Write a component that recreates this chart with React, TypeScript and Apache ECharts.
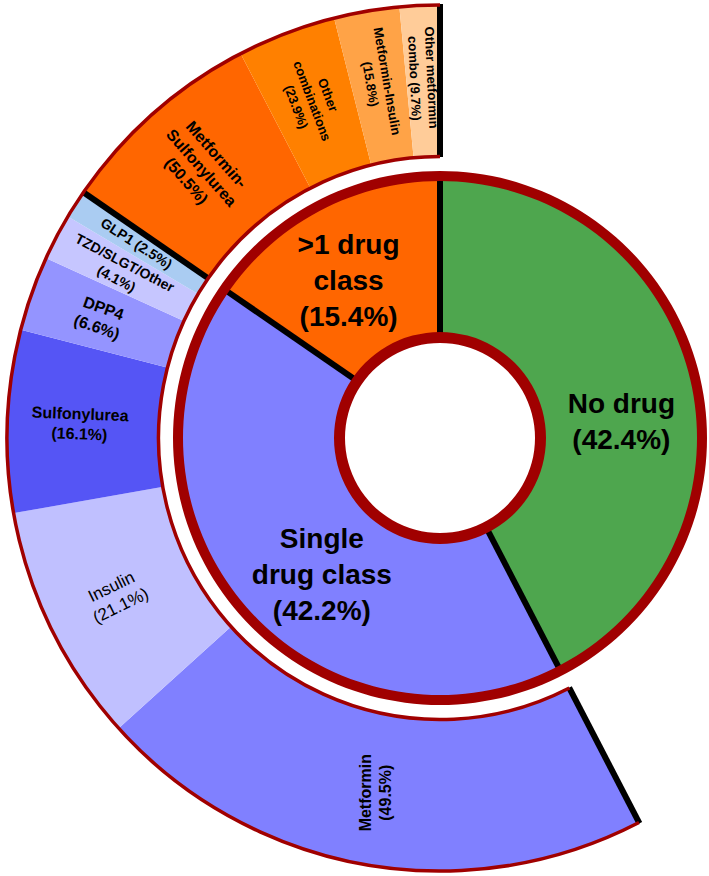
import React, { useEffect, useRef } from 'react';
import * as echarts from 'echarts';

// ---- data ----
const mainLabels = ['No drug', 'Single\ndrug class', '>1 drug\nclass'];
const mainValues = [42.4, 42.2, 15.4];

const singleLabels = ['Metformin', 'Insulin', 'Sulfonylurea', 'DPP4', 'TZD/SLGT/Other', 'GLP1'];
const singleValues = [49.5, 21.1, 16.1, 6.6, 4.1, 2.5];
const singleSeps = ['\n', '\n', '\n', '\n', '\n', ' '];

const comboLabels = ['Metformin-\nSulfonylurea', 'Other\ncombinations', 'Metformin-Insulin', 'Other metformin\ncombo'];
const comboValues = [50.5, 23.9, 15.8, 9.7];
const comboSeps = ['\n', '\n', '\n', ' '];

// ---- styles ----
const mainColors = ['#4EA64E', '#8080FF', '#FF6600'];
const singleColors = ['#8080FF', '#C0C0FF', '#5555F5', '#9494FF', '#C6C6FF', '#AACCF2'];
const comboColors = ['#FF6600', '#FF8000', '#FFA347', '#FFCC99'];
const singleFont = [16, 17, 16, 16, 14, 14];
const singleWeight = ['bold', 'normal', 'bold', 'bold', 'bold', 'bold'];
const comboFont = [16, 13, 13, 13];
const innerLabelShift = [
  [5, 26],
  [18, 16],
  [-7, 3],
];
const RED = '#A00000';
const FONT = '"Liberation Sans", Arial, Helvetica, sans-serif';

export default function App() {
  const ref = useRef<HTMLDivElement>(null);

  useEffect(() => {
    const chart = echarts.init(ref.current!, null, { renderer: 'svg' });
    const cx = 440;
    const cy = 438;
    const innerR: [number, number] = [105, 258];
    const outerR: [number, number] = [281, 434];

    const total = mainValues.reduce((a, b) => a + b, 0);
    const sumS = singleValues.reduce((a, b) => a + b, 0);
    const sumC = comboValues.reduce((a, b) => a + b, 0);

    const innerData = mainLabels.map((name, i) => ({
      name,
      value: mainValues[i],
      itemStyle: { color: mainColors[i] },
    }));

    const outerData: any[] = [
      {
        name: 'none',
        value: mainValues[0],
        itemStyle: { color: 'rgba(0,0,0,0)' },
        label: { show: false },
      },
      ...singleLabels.map((name, i) => ({
        name,
        value: (mainValues[1] * singleValues[i]) / sumS,
        pct: singleValues[i],
        sep: singleSeps[i],
        itemStyle: { color: singleColors[i] },
        label: {
          fontSize: singleFont[i],
          fontWeight: singleWeight[i],
          lineHeight: singleFont[i] + 4,
          ...(i === 0 ? { rotate: 90 } : {}),
        },
      })),
      ...comboLabels.map((name, i) => ({
        name,
        value: (mainValues[2] * comboValues[i]) / sumC,
        pct: comboValues[i],
        sep: comboSeps[i],
        itemStyle: { color: comboColors[i] },
        label: { fontSize: comboFont[i], lineHeight: comboFont[i] + 4 },
      })),
    ];

    const pt = (deg: number, r: number) => {
      const a = (deg * Math.PI) / 180;
      return [cx + r * Math.sin(a), cy - r * Math.cos(a)];
    };

    // boundaries between main categories (clock degrees) + mid angles
    const bounds: number[] = [];
    const mids: number[] = [];
    let acc = 0;
    mainValues.forEach((v) => {
      bounds.push((acc / total) * 360);
      mids.push(((acc + v / 2) / total) * 360);
      acc += v;
    });

    const graphics: any[] = [];
    bounds.forEach((b) => {
      [innerR, outerR].forEach(([r1, r2]) => {
        const p1 = pt(b, r1);
        const p2 = pt(b, r2);
        graphics.push({
          type: 'line',
          silent: true,
          z: 10,
          shape: { x1: p1[0], y1: p1[1], x2: p2[0], y2: p2[1] },
          style: { stroke: '#000', lineWidth: 6 },
        });
      });
    });
    graphics.push({
      type: 'ring',
      silent: true,
      z: 11,
      shape: { cx, cy, r: 106, r0: 95 },
      style: { fill: RED },
    });
    graphics.push({
      type: 'ring',
      silent: true,
      z: 11,
      shape: { cx, cy, r: 267, r0: 257 },
      style: { fill: RED },
    });
    const startA = ((bounds[1] - 90) * Math.PI) / 180;
    const endA = ((360 - 90) * Math.PI) / 180;
    [281.5, 433].forEach((r) => {
      graphics.push({
        type: 'arc',
        silent: true,
        z: 11,
        shape: { cx, cy, r, startAngle: startA, endAngle: endA, clockwise: true },
        style: { stroke: RED, lineWidth: 3.5, fill: null },
      });
    });
    // inner-ring labels
    const midR = (innerR[0] + innerR[1]) / 2;
    mainLabels.forEach((name, i) => {
      const p = pt(mids[i], midR);
      graphics.push({
        type: 'text',
        silent: true,
        z: 12,
        x: p[0] + innerLabelShift[i][0],
        y: p[1] + innerLabelShift[i][1],
        style: {
          text: `${name}\n(${mainValues[i]}%)`,
          align: 'center',
          verticalAlign: 'middle',
          fill: '#000',
          fontFamily: FONT,
          fontWeight: 'bold',
          fontSize: 28,
          lineHeight: 36,
        },
      });
    });

    chart.setOption({
      animation: false,
      backgroundColor: '#ffffff',
      series: [
        {
          type: 'pie',
          silent: true,
          center: [cx, cy],
          radius: innerR,
          startAngle: 90,
          clockwise: true,
          emphasis: { disabled: true },
          labelLine: { show: false },
          label: { show: false },
          data: innerData,
        },
        {
          type: 'pie',
          silent: true,
          center: [cx, cy],
          radius: outerR,
          startAngle: 90,
          clockwise: true,
          avoidLabelOverlap: false,
          minShowLabelAngle: 0,
          emphasis: { disabled: true },
          labelLine: { show: false },
          label: {
            show: true,
            position: 'inside',
            rotate: 'radial',
            color: '#000',
            fontFamily: FONT,
            fontWeight: 'bold',
            fontSize: 14,
            textBorderWidth: 0,
            formatter: (p: any) => `${p.name}${p.data.sep}(${p.data.pct}%)`,
          },
          data: outerData,
        },
      ],
      graphic: { elements: graphics },
    });

    return () => chart.dispose();
  }, []);

  return (
    <div
      ref={ref}
      style={{ position: 'absolute', left: 0, top: 0, width: 709, height: 876 }}
    />
  );
}
